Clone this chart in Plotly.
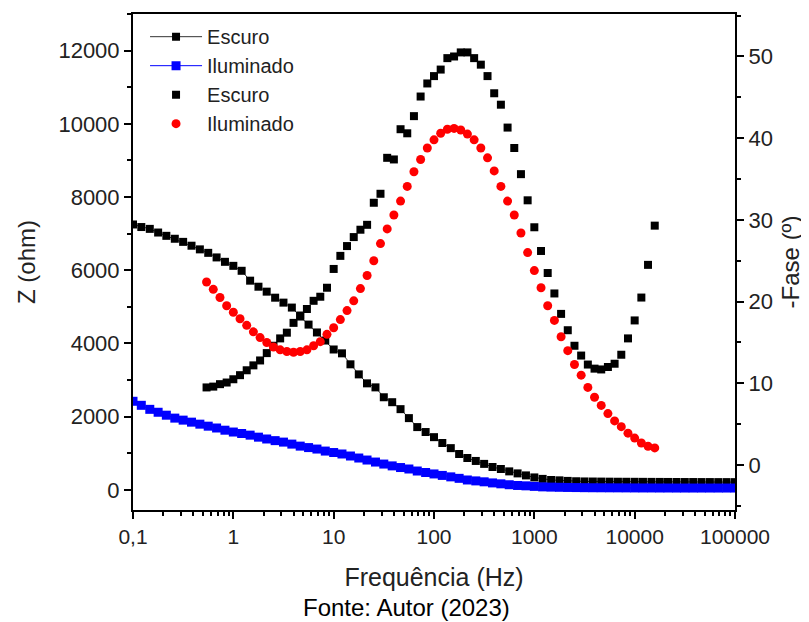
import plotly.graph_objects as go

# ---------------- data ----------------
# impedance sweep frequencies (Hz)
freq_z = [0.1, 0.121, 0.147, 0.178, 0.215, 0.261, 0.316, 0.383, 0.464, 0.562, 0.681, 0.825,
          1, 1.21, 1.47, 1.78, 2.15, 2.61, 3.16, 3.83, 4.64, 5.62, 6.81, 8.25,
          10, 12.1, 14.7, 17.8, 21.5, 26.1, 31.6, 38.3, 46.4, 56.2, 68.1, 82.5,
          100, 121, 147, 178, 215, 261, 316, 383, 464, 562, 681, 825,
          1000, 1210, 1470, 1780, 2150, 2610, 3160, 3830, 4640, 5620, 6810, 8250,
          10000, 12100, 14700, 17800, 21500, 26100, 31600, 38300, 46400, 56200, 68100, 82500,
          100000]

z_escuro = [7250, 7180, 7130, 7030, 6940, 6860, 6775, 6670, 6570, 6475, 6350, 6230,
            6120, 5985, 5715, 5550, 5415, 5250, 5115, 4980, 4735, 4515, 4300, 4080,
            3835, 3730, 3430, 3155, 2910, 2800, 2530, 2395, 2205, 1960, 1715, 1580,
            1440, 1280, 1140, 980, 870, 790, 710, 625, 570, 505, 450, 395,
            340, 300, 270, 260, 245, 235, 230, 228, 226, 224, 222, 221,
            220, 219, 218, 217, 216, 215, 214, 214, 213, 213, 212, 212,
            211]

z_iluminado = [2420, 2310, 2200, 2120, 2040, 1960, 1905, 1850, 1795, 1740, 1690, 1630,
               1580, 1540, 1495, 1440, 1390, 1345, 1305, 1250, 1195, 1155, 1115, 1060,
               1020, 980, 925, 870, 815, 760, 705, 655, 610, 570, 515, 475,
               435, 395, 355, 315, 270, 245, 220, 190, 165, 140, 120, 110,
               95, 82, 75, 70, 66, 63, 60, 58, 57, 56, 55, 54,
               53, 52, 52, 51, 51, 50, 50, 50, 50, 50, 50, 50,
               50]

# phase sweep frequencies (Hz)
freq_fase = [0.541, 0.631, 0.736, 0.858,
             1, 1.166, 1.359, 1.585, 1.848, 2.154, 2.512, 2.929, 3.415, 3.981, 4.642, 5.412, 6.31, 7.356, 8.577,
             10, 11.66, 13.59, 15.85, 18.48, 21.54, 25.12, 29.29, 34.15, 39.81, 46.42, 54.12, 63.1, 73.56, 85.77,
             100, 116.6, 135.9, 158.5, 184.8, 215.4, 251.2, 292.9, 341.5, 398.1, 464.2, 541.2, 631, 735.6, 857.7,
             1000, 1166, 1359, 1585, 1848, 2154, 2512, 2929, 3415, 3981, 4642, 5412, 6310, 7356, 8577,
             10000, 11660, 13590, 15850]

fase_escuro = [9.5, 9.6, 9.9, 10.1, 10.5, 11.0, 11.6, 12.2, 12.8, 13.7,
               14.6, 15.5, 16.2, 17.4, 18.3, 19.1, 20.1, 20.6, 21.7, 24.0,
               25.6, 26.8, 27.9, 28.8, 29.4, 32.1, 33.2, 37.6, 37.4, 41.1,
               40.6, 42.7, 45.1, 46.7, 47.6, 48.4, 49.8, 50.0, 50.5, 50.5,
               49.8, 49.0, 47.6, 45.5, 44.1, 41.3, 38.8, 35.6, 32.4, 29.1,
               26.2, 23.5, 21.0, 18.5, 16.5, 14.6, 13.4, 12.3, 11.8, 11.7,
               12.0, 12.4, 13.5, 15.5, 17.7, 20.5, 24.5, 29.3]

fase_iluminado = [22.4, 21.5, 20.5, 19.5, 18.7, 17.9, 17.1, 16.3, 15.6, 15.0,
                  14.45, 14.1, 13.9, 13.8, 13.9, 14.1, 14.6, 15.1, 16.0, 16.8,
                  17.8, 18.9, 20.1, 21.6, 23.2, 25.0, 27.1, 28.9, 30.6, 32.3,
                  34.1, 35.9, 37.4, 38.8, 39.8, 40.6, 41.1, 41.2, 41.0, 40.5,
                  39.8, 38.8, 37.6, 36.0, 34.1, 32.3, 30.6, 28.4, 26.0, 23.8,
                  21.7, 19.5, 17.7, 15.7, 14.0, 12.3, 11.0, 9.5, 8.3, 7.3,
                  6.3, 5.4, 4.7, 3.9, 3.3, 2.7, 2.3, 2.1]

x_tickvals = [0.1, 1, 10, 100, 1000, 10000, 100000]
x_ticktext = ["0,1", "1", "10", "100", "1000", "10000", "100000"]
y_tickvals = [0, 2000, 4000, 6000, 8000, 10000, 12000]
y_ticktext = ["0", "2000", "4000", "6000", "8000", "10000", "12000"]
y2_tickvals = [0, 10, 20, 30, 40, 50]
y2_ticktext = ["0", "10", "20", "30", "40", "50"]

FONT = "Liberation Sans, Arial, sans-serif"
TXT = "#222222"

fig = go.Figure()
fig.add_trace(go.Scatter(x=freq_z, y=z_escuro, name="Escuro", mode="lines+markers",
                         line=dict(color="#333333", width=1),
                         marker=dict(symbol="square", size=8, color="black"),
                         yaxis="y"))
fig.add_trace(go.Scatter(x=freq_z, y=z_iluminado, name="Iluminado", mode="lines+markers",
                         line=dict(color="blue", width=1),
                         marker=dict(symbol="square", size=9, color="blue"),
                         yaxis="y"))
fig.add_trace(go.Scatter(x=freq_fase, y=fase_escuro, name="Escuro", mode="markers",
                         marker=dict(symbol="square", size=8, color="black"),
                         yaxis="y2"))
fig.add_trace(go.Scatter(x=freq_fase, y=fase_iluminado, name="Iluminado", mode="markers",
                         marker=dict(symbol="circle", size=9, color="red"),
                         yaxis="y2"))

axis_common = dict(showline=True, linecolor="black", linewidth=2, showgrid=False,
                   zeroline=False, ticks="outside", tickcolor="black", tickwidth=1.5,
                   ticklen=7)
minor_common = dict(ticks="outside", ticklen=4, tickcolor="black", tickwidth=1.5)

# page body has an 8px default margin, so the figure is offset by 8px
fig.update_layout(
    width=809, height=622,
    margin=dict(l=125, r=82, t=4, b=120),
    paper_bgcolor="white", plot_bgcolor="white",
    showlegend=True,
    legend=dict(x=0.02, y=0.9936, xanchor="left", yanchor="top",
                bgcolor="rgba(0,0,0,0)", borderwidth=0, itemwidth=52,
                font=dict(family=FONT, size=20, color=TXT),
                tracegroupgap=0),
    xaxis=dict(type="log", range=[-1, 5], tickvals=x_tickvals, ticktext=x_ticktext,
               mirror=True, minor=dict(dtick="D1", **minor_common),
               tickfont=dict(family=FONT, size=21, color=TXT),
               title=dict(text="Frequência (Hz)", font=dict(family=FONT, size=25, color=TXT),
                          standoff=21),
               **axis_common),
    yaxis=dict(range=[-550, 13000], tickvals=y_tickvals, ticktext=y_ticktext,
               minor=dict(dtick=1000, **minor_common),
               tickfont=dict(family=FONT, size=22, color=TXT),
               title=dict(text="Z (ohm)", font=dict(family=FONT, size=24, color=TXT),
                          standoff=16),
               **axis_common),
    yaxis2=dict(range=[-5.5, 55.2], tickvals=y2_tickvals, ticktext=y2_ticktext,
                overlaying="y", side="right",
                minor=dict(dtick=5, **minor_common),
                tickfont=dict(family=FONT, size=22, color=TXT),
                title=dict(text="-Fase (º)", font=dict(family=FONT, size=24, color=TXT),
                           standoff=10),
                **axis_common),
    annotations=[dict(text="Fonte: Autor (2023)", xref="paper", yref="paper",
                      x=0.455, y=0, yshift=-97, xanchor="center", yanchor="middle",
                      showarrow=False, font=dict(family=FONT, size=24, color="black"))],
)

fig.write_html("out.html")
